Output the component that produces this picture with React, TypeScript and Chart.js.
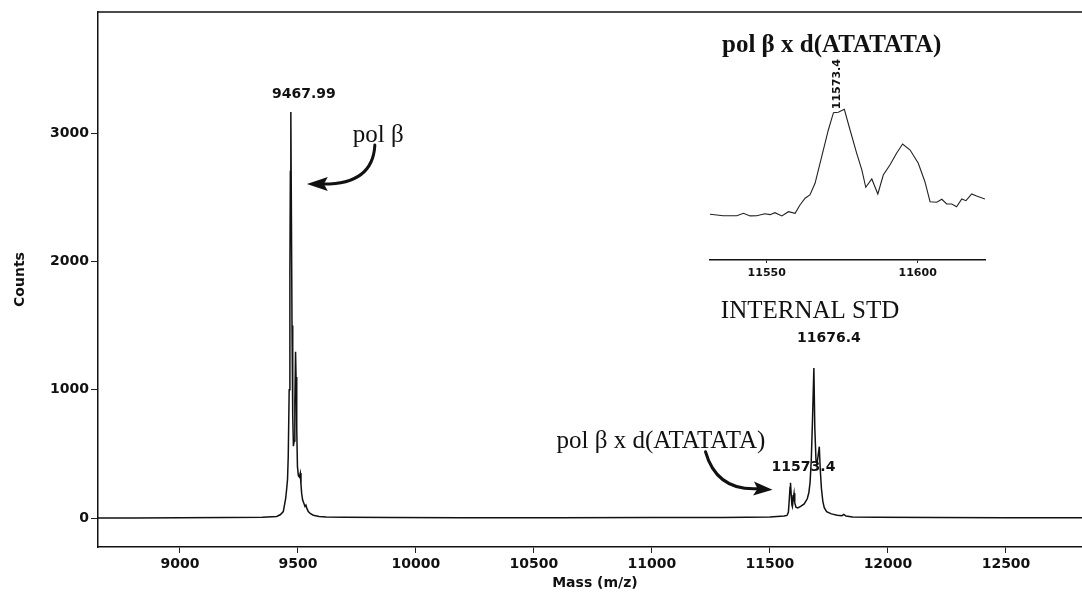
import React, { useEffect, useRef } from "react";
import { Chart, registerables } from "chart.js";

Chart.register(...registerables);

// ---- main spectrum (Mass m/z vs Counts) ----
const massValues = [
  8653, 8800, 9000, 9200, 9350, 9410, 9425, 9438, 9448, 9452, 9456, 9459, 9463, 9466, 9468, 9470,
  9472, 9475, 9478, 9481, 9484, 9487, 9490, 9492, 9495, 9498, 9502, 9506, 9510, 9513, 9516, 9520,
  9524, 9530, 9534, 9538, 9544, 9552, 9565, 9590, 9620, 9700, 9900, 10200, 10600, 11000, 11300,
  11500, 11560, 11572, 11578, 11582, 11585, 11587, 11590, 11593, 11595, 11598, 11602, 11605, 11610,
  11618, 11630, 11645, 11658, 11665, 11670, 11675, 11680, 11686, 11690, 11695, 11700, 11705, 11709,
  11713, 11718, 11724, 11730, 11740, 11760, 11785, 11805, 11813, 11822, 11850, 11950, 12200, 12500,
  12822,
];
const countValues = [
  0, 1, 2, 3, 6, 12, 25, 50, 150, 220, 300, 480, 1000, 1900, 2700, 3164,
  2500, 1500, 800, 560, 600, 900, 1296, 1100, 700, 400, 330, 320, 350, 260, 190, 140,
  120, 90, 100, 75, 50, 35, 22, 12, 8, 5, 3, 2, 2, 3, 4,
  8, 15, 20, 45, 150, 240, 275, 180, 100, 88, 140, 192, 120, 85,
  78, 90, 110, 150, 200, 280, 450, 750, 1170, 700, 450, 430, 500, 556,
  380, 230, 130, 80, 50, 32, 22, 18, 28, 15, 8, 5, 3, 2,
  2,
];
const xTickValues = [9000, 9500, 10000, 10500, 11000, 11500, 12000, 12500];
const yTickValues = [0, 1000, 2000, 3000];

// peak labels: text, mass of the peak, counts at the peak top
const peakLabelTexts = ["9467.99", "11676.4", "11573.4"];
const peakLabelMasses = [9470, 11686, 11587];
const peakLabelCounts = [3164, 1170, 275];

// ---- inset: zoom on the pol β x d(ATATATA) peak (relative intensity) ----
const insetMass = [
  11531.2, 11535.6, 11540.1, 11542.3, 11544.5, 11546.7, 11549.4, 11551.1, 11552.7, 11555.0,
  11557.2, 11559.4, 11561.0, 11562.7, 11564.3, 11566.0, 11568.2, 11570.4, 11572.1, 11573.7,
  11575.7, 11577.6, 11579.8, 11581.5, 11582.8, 11584.8, 11586.8, 11588.6, 11590.8, 11593.0,
  11595.0, 11597.5, 11600.2, 11602.4, 11604.1, 11606.3, 11608.0, 11609.6, 11611.3, 11612.9,
  11614.6, 11616.0, 11617.9, 11619.5, 11622.3,
];
const insetIntensity = [
  0.7, -0.7, -0.7, 1.6, -0.9, -0.7, 1.2, 0.3, 2.2, -0.9,
  3.1, 1.6, 9.4, 15.8, 18.9, 29.9, 55.0, 80.2, 96.5, 96.9,
  99.7, 80.2, 58.2, 42.5, 26.1, 34.0, 19.8, 37.7, 47.2, 58.2,
  67.0, 61.3, 48.8, 31.4, 12.5, 12.0, 14.8, 10.4, 10.4, 7.8,
  15.1, 13.5, 19.8, 17.9, 15.1,
];
const insetTickValues = [11550, 11600];
const insetPeakMass = 11573.4;
const insetPeakLabel = "11573.4";
const insetTitle = "pol β x d(ATATATA)";

const INK = "#111";
const SANS = "'DejaVu Sans', sans-serif";
const SERIF = "'Liberation Serif', 'Times New Roman', serif";

function arrow(ctx: CanvasRenderingContext2D, sx: number, sy: number, cx: number, cy: number, ex: number, ey: number, tx: number, ty: number) {
  ctx.beginPath();
  ctx.moveTo(sx, sy);
  ctx.quadraticCurveTo(cx, cy, ex, ey);
  ctx.lineWidth = 3;
  ctx.strokeStyle = INK;
  ctx.lineCap = "round";
  ctx.stroke();
  const ang = Math.atan2(ty - ey, tx - ex);
  const len = Math.hypot(tx - ex, ty - ey) + 4;
  const bx = tx - Math.cos(ang) * len;
  const by = ty - Math.sin(ang) * len;
  const hw = 7;
  ctx.beginPath();
  ctx.moveTo(tx, ty);
  ctx.lineTo(bx + Math.sin(ang) * hw, by - Math.cos(ang) * hw);
  ctx.lineTo(bx + Math.cos(ang) * 4, by + Math.sin(ang) * 4);
  ctx.lineTo(bx - Math.sin(ang) * hw, by + Math.cos(ang) * hw);
  ctx.closePath();
  ctx.fillStyle = INK;
  ctx.fill();
}

const mainDecor = {
  id: "mainDecor",
  beforeDatasetsDraw(chart: any) {
    const { ctx, chartArea, scales } = chart;
    const x = scales.x;
    const y = scales.y;
    ctx.save();
    // top frame line
    ctx.beginPath();
    ctx.moveTo(chartArea.left, chartArea.top);
    ctx.lineTo(chartArea.right, chartArea.top);
    ctx.lineWidth = 1.5;
    ctx.strokeStyle = INK;
    ctx.stroke();

    // peak labels
    const offs = [
      [13, -18],
      [15, -30],
      [13, -15],
    ];
    ctx.font = `bold 14px ${SANS}`;
    ctx.fillStyle = INK;
    ctx.textAlign = "center";
    ctx.textBaseline = "middle";
    peakLabelTexts.forEach((t, i) => {
      const px = x.getPixelForValue(peakLabelMasses[i]) + offs[i][0];
      const py = y.getPixelForValue(peakLabelCounts[i]) + offs[i][1];
      ctx.fillText(t, px, py);
    });

    // x axis title
    ctx.fillText("Mass (m/z)", (x.getPixelForValue(10500) + x.getPixelForValue(11000)) / 2 + 2, chartArea.bottom + 36);

    // serif annotations
    ctx.font = `25px ${SERIF}`;
    ctx.textAlign = "left";
    ctx.textBaseline = "alphabetic";
    const p1x = x.getPixelForValue(peakLabelMasses[0]);
    const p1y = y.getPixelForValue(peakLabelCounts[0]);
    ctx.fillText("pol β", p1x + 62, p1y + 30);
    arrow(ctx, p1x + 84, p1y + 33, p1x + 82, p1y + 72, p1x + 33, p1y + 72, p1x + 16, p1y + 72);

    const p3x = x.getPixelForValue(peakLabelMasses[2]);
    const p3y = y.getPixelForValue(peakLabelCounts[2]);
    ctx.fillText("pol β x d(ATATATA)", p3x - 234, p3y - 35);
    arrow(ctx, p3x - 85, p3y - 31, p3x - 74, p3y + 8, p3x - 33, p3y + 6, p3x - 18, p3y + 7);

    const p2x = x.getPixelForValue(peakLabelMasses[1]);
    const p2y = y.getPixelForValue(peakLabelCounts[1]);
    ctx.fillText("INTERNAL STD", p2x - 93, p2y - 50);
    ctx.restore();
  },
};

const insetDecor = {
  id: "insetDecor",
  afterDatasetsDraw(chart: any) {
    const { ctx, chartArea, scales } = chart;
    const x = scales.x;
    const y = scales.y;
    ctx.save();
    ctx.fillStyle = INK;
    ctx.font = `bold 25px ${SERIF}`;
    ctx.textAlign = "left";
    ctx.textBaseline = "alphabetic";
    ctx.fillText(insetTitle, chartArea.left + 12, chartArea.top - 48);
    const px = x.getPixelForValue(insetPeakMass);
    const py = y.getPixelForValue(97) - 3;
    ctx.translate(px, py);
    ctx.rotate(-Math.PI / 2);
    ctx.font = `bold 11px ${SANS}`;
    ctx.textBaseline = "middle";
    ctx.fillText(insetPeakLabel, 0, 0);
    ctx.restore();
  },
};

export default function App() {
  const mainRef = useRef<HTMLCanvasElement | null>(null);
  const insetRef = useRef<HTMLCanvasElement | null>(null);

  useEffect(() => {
    const tickFont = { family: SANS, size: 14, weight: "bold" as const };
    const mainPoints = massValues.map((m, i) => ({ x: m, y: countValues[i] }));
    const main = new Chart(mainRef.current as HTMLCanvasElement, {
      type: "scatter",
      data: {
        datasets: [
          {
            data: mainPoints,
            showLine: true,
            borderColor: INK,
            borderWidth: 1.5,
            pointRadius: 0,
            tension: 0,
          },
        ],
      },
      options: {
        responsive: false,
        animation: false,
        layout: { padding: { top: 12, left: 0, right: 0, bottom: 0 } },
        plugins: { legend: { display: false }, tooltip: { enabled: false } },
        scales: {
          x: {
            type: "linear",
            min: 8653,
            max: 12822,
            afterBuildTicks: (s: any) => {
              s.ticks = xTickValues.map((v) => ({ value: v }));
            },
            afterFit: (s: any) => {
              s.height = 45;
            },
            ticks: {
              font: tickFont,
              color: INK,
              padding: 3,
              maxRotation: 0,
              autoSkip: false,
              callback: (v: any) => String(v),
            },
            grid: { drawOnChartArea: false, drawTicks: true, tickLength: 6, color: "#222", lineWidth: 1 },
            border: { display: true, color: INK, width: 1.5 },
          },
          y: {
            type: "linear",
            min: -226,
            max: 3944,
            afterBuildTicks: (s: any) => {
              s.ticks = yTickValues.map((v) => ({ value: v }));
            },
            afterFit: (s: any) => {
              s.width = 98;
            },
            ticks: {
              font: tickFont,
              color: INK,
              padding: 2,
              autoSkip: false,
              callback: (v: any) => String(v),
            },
            grid: { drawOnChartArea: false, drawTicks: true, tickLength: 7, color: "#222", lineWidth: 1 },
            border: { display: true, color: INK, width: 1.5 },
            title: {
              display: true,
              text: "Counts",
              font: tickFont,
              color: INK,
              padding: { top: 12, bottom: 0 },
            },
          },
        },
      },
      plugins: [mainDecor],
    });

    const insetPoints = insetMass.map((m, i) => ({ x: m, y: insetIntensity[i] }));
    const inset = new Chart(insetRef.current as HTMLCanvasElement, {
      type: "scatter",
      data: {
        datasets: [
          {
            data: insetPoints,
            showLine: true,
            borderColor: "#222",
            borderWidth: 1.1,
            pointRadius: 0,
            tension: 0,
          },
        ],
      },
      options: {
        responsive: false,
        animation: false,
        layout: { padding: { top: 80, left: 20, right: 35, bottom: 0 } },
        plugins: { legend: { display: false }, tooltip: { enabled: false } },
        scales: {
          x: {
            type: "linear",
            min: 11531.2,
            max: 11622.3,
            afterBuildTicks: (s: any) => {
              s.ticks = insetTickValues.map((v) => ({ value: v }));
            },
            afterFit: (s: any) => {
              s.height = 30;
            },
            ticks: {
              font: { family: SANS, size: 11, weight: "bold" as const },
              color: INK,
              padding: 4,
              maxRotation: 0,
              autoSkip: false,
              callback: (v: any) => String(v),
            },
            grid: { drawOnChartArea: false, drawTicks: true, tickLength: 3, color: "#222", lineWidth: 1 },
            border: { display: true, color: INK, width: 1.5 },
          },
          y: {
            type: "linear",
            display: false,
            min: -42.5,
            max: 108.5,
          },
        },
      },
      plugins: [insetDecor],
    });

    return () => {
      main.destroy();
      inset.destroy();
    };
  }, []);

  return (
    <div style={{ position: "absolute", left: 0, top: 0, width: 1082, height: 592, background: "#fff" }}>
      <canvas ref={mainRef} width={1082} height={592} style={{ position: "absolute", left: 0, top: 0 }} />
      <canvas ref={insetRef} width={330} height={270} style={{ position: "absolute", left: 690, top: 20 }} />
    </div>
  );
}
